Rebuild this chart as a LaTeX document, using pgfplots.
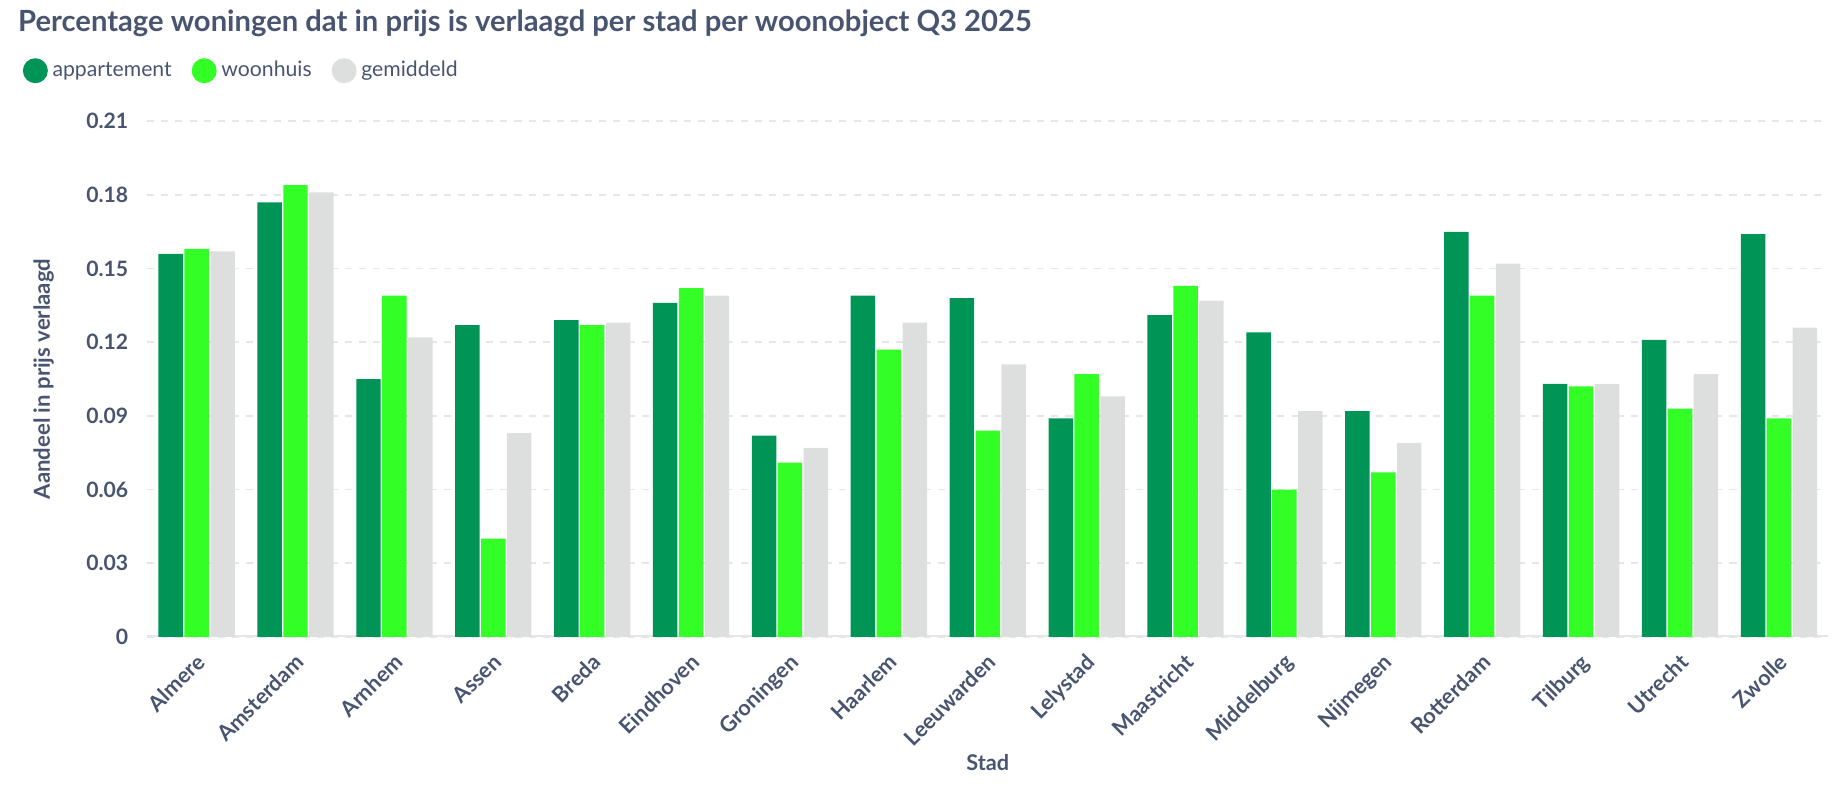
\documentclass[border=0pt]{standalone}
\usepackage{pgfplots}
\pgfplotsset{compat=1.18}
\usepackage{pgfplotstable}
\usepackage{fontspec}
\setmainfont{Lato}
\definecolor{txt}{RGB}{72,84,112}
\definecolor{app}{RGB}{0,149,87}
\definecolor{won}{RGB}{51,255,38}
\definecolor{gem}{RGB}{221,223,222}
\definecolor{gridc}{RGB}{230,230,230}

\pgfplotstableread{
x app won gem
0 0.156 0.158 0.157
1 0.177 0.184 0.181
2 0.105 0.139 0.122
3 0.127 0.040 0.083
4 0.129 0.127 0.128
5 0.136 0.142 0.139
6 0.082 0.071 0.077
7 0.139 0.117 0.128
8 0.138 0.084 0.111
9 0.089 0.107 0.098
10 0.131 0.143 0.137
11 0.124 0.060 0.092
12 0.092 0.067 0.079
13 0.165 0.139 0.152
14 0.103 0.102 0.103
15 0.121 0.093 0.107
16 0.164 0.089 0.126
}\data

\begin{document}
\begin{tikzpicture}
\path[use as bounding box] (0,0) rectangle (784pt,339pt);
\node[anchor=west, text=txt, font=\bfseries\fontsize{12.4}{15}\selectfont, inner sep=0pt] at (7.5pt,329pt) {Percentage woningen dat in prijs is verlaagd per stad per woonobject Q3 2025};
\begin{axis}[
  at={(62.5pt,68.5pt)}, anchor=south west,
  scale only axis, width=714pt, height=219pt,
  xmin=-0.5, xmax=16.5, ymin=0, ymax=0.21,
  ybar=0.6pt, bar width=10.4pt,
  axis line style={draw=none},
  major tick length=0pt,
  ytick={0,0.03,0.06,0.09,0.12,0.15,0.18,0.21},
  yticklabels={0,0.03,0.06,0.09,0.12,0.15,0.18,0.21},
  xtick={0,...,16},
  xticklabels={Almere,Amsterdam,Arnhem,Assen,Breda,Eindhoven,Groningen,Haarlem,Leeuwarden,Lelystad,Maastricht,Middelburg,Nijmegen,Rotterdam,Tilburg,Utrecht,Zwolle},
  ymajorgrids,
  grid style={draw=gridc, line width=0.7pt, dash pattern=on 3pt off 3pt},
  yticklabel style={font=\bfseries\fontsize{9}{11}\selectfont, text=txt, xshift=-4.5pt},
  xticklabel style={font=\bfseries\fontsize{9.2}{11}\selectfont, text=txt, rotate=45, anchor=north east, inner sep=1pt, xshift=-4pt, yshift=-3pt},
  ylabel={Aandeel in prijs verlaagd},
  ylabel style={font=\bfseries\fontsize{9.4}{11}\selectfont, text=txt, at={(axis description cs:-0.0616,0.5)}, anchor=center, rotate=0},
  xlabel={Stad},
  xlabel style={font=\bfseries\fontsize{9.2}{11}\selectfont, text=txt, at={(axis description cs:0.5,-0.244)}, anchor=center},
  legend style={at={(axis description cs:-0.0784,1.098)}, anchor=west, draw=none, fill=none,
    legend columns=-1, font=\fontsize{9}{11}\selectfont, text=txt,
    /tikz/every even column/.append style={column sep=6.5pt}},
  legend image code/.code={\fill[#1] (0pt,0pt) circle (5.3pt);},
]
\draw[gridc, line width=1.2pt] (axis cs:-0.5,0) -- (axis cs:16.5,0);
\addplot[fill=app, draw=none] table[x=x, y=app] {\data};
\addplot[fill=won, draw=none] table[x=x, y=won] {\data};
\addplot[fill=gem, draw=none] table[x=x, y=gem] {\data};
\legend{appartement, woonhuis, gemiddeld}
\end{axis}
\end{tikzpicture}
\end{document}
